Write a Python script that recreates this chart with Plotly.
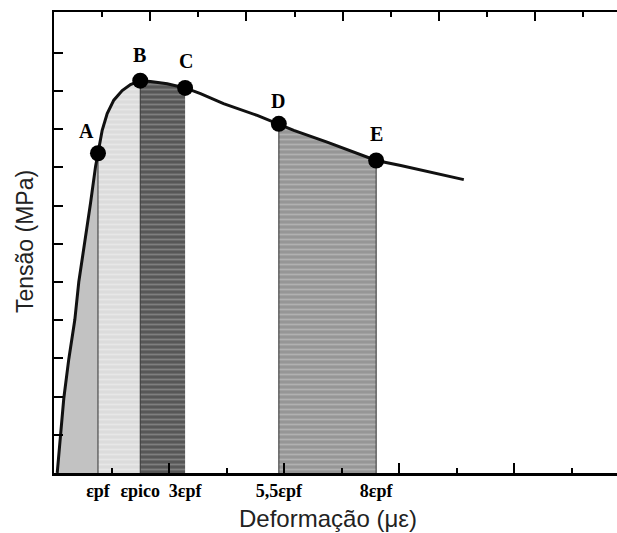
import plotly.graph_objects as go

# ---- data ----
strain = [0.056, 0.113, 0.170, 0.257, 0.362, 0.431, 0.536, 0.635, 0.722, 0.765,
          0.838, 0.925, 1.04, 1.186, 1.33, 1.50, 1.678, 1.969, 2.28, 2.548,
          2.948, 3.534, 3.91, 4.17, 4.75, 5.214, 5.603, 6.03, 6.548, 7.127]
stress = [0, 0.98, 1.95, 2.98, 4.01, 5.0, 6.03, 7.06, 8.02, 8.37,
          8.97, 9.41, 9.76, 10.01, 10.17, 10.27, 10.25, 10.19, 10.08, 9.93,
          9.67, 9.36, 9.14, 8.97, 8.66, 8.40, 8.18, 8.05, 7.87, 7.68]

point_names = ["A", "B", "C", "D", "E"]
point_index = [9, 15, 18, 22, 26]
tick_labels = ["εpf", "εpico", "3εpf", "5,5εpf", "8εpf"]

bottom_major = [2, 4, 6, 8]
bottom_minor = [1, 3, 5, 7, 9]
top_major = [2, 4, 6, 8, 10]
top_minor = [1, 3, 5, 7, 9, 11]
left_ticks = [1, 2, 3, 4, 5, 6, 7, 8, 9, 10, 11]

px_ = [strain[i] for i in point_index]
py_ = [stress[i] for i in point_index]

# regions: (start index, end index, bg, fg, pattern)
regions = [
    (0, 9, "#c2c2c2", "#c2c2c2", ""),
    (9, 15, "#dcdcdc", "#f2f2f2", "-"),
    (15, 18, "#575757", "#a8a8a8", "-"),
    (22, 26, "#969696", "#cccccc", "-"),
]

fig = go.Figure()

for s, e, bg, fg, shp in regions:
    kw = dict(x=strain[s:e + 1], y=stress[s:e + 1], mode="lines",
              line=dict(width=0), fill="tozeroy", fillcolor=bg,
              hoverinfo="skip", showlegend=False)
    if shp:
        kw["fillpattern"] = dict(shape=shp, bgcolor=bg, fgcolor=fg,
                                 size=5, solidity=0.35)
    fig.add_trace(go.Scatter(**kw))

# vertical boundary lines
for k in [0, 1, 3, 4]:
    fig.add_trace(go.Scatter(x=[px_[k], px_[k]], y=[0, py_[k]], mode="lines",
                             line=dict(color="#333333", width=1),
                             hoverinfo="skip", showlegend=False))

# curve
fig.add_trace(go.Scatter(x=strain, y=stress, mode="lines",
                         line=dict(color="#111111", width=3),
                         showlegend=False))

# points
fig.add_trace(go.Scatter(x=px_, y=py_, mode="markers",
                         marker=dict(color="black", size=16),
                         showlegend=False))

# point labels
shifts = [(-11, 22), (-1, 26), (1, 27), (-1, 23), (0, 27)]
for name, x, y, (dx, dy) in zip(point_names, px_, py_, shifts):
    fig.add_annotation(x=x, y=y, text=name, showarrow=False,
                       xshift=dx, yshift=dy,
                       font=dict(family="Liberation Serif", size=20,
                                 color="black", weight="bold"))

# invisible traces for the helper axes
fig.add_trace(go.Scatter(x=[0], y=[0], xaxis="x2", mode="markers",
                         marker=dict(opacity=0), hoverinfo="skip",
                         showlegend=False))
fig.add_trace(go.Scatter(x=[0], y=[0], xaxis="x3", mode="markers",
                         marker=dict(opacity=0), hoverinfo="skip",
                         showlegend=False))

W, H = 617, 533
L, R, T, B = 54, 0, 12, 60
pw, ph = W - L - R, H - T - B


def page_x(x):
    return (x - L) / pw


def page_y(y):
    return (H - B - y) / ph


fig.update_layout(
    width=W, height=H,
    margin=dict(l=L, r=R, t=T, b=B),
    paper_bgcolor="white", plot_bgcolor="white",
    xaxis=dict(range=[0, pw / 57.5], showline=True, linewidth=3,
               linecolor="black", ticks="inside", tickmode="array",
               tickvals=bottom_major, ticklen=10, tickwidth=2,
               tickcolor="black", showticklabels=False, showgrid=False,
               zeroline=False,
               minor=dict(tickmode="array", tickvals=bottom_minor,
                          ticks="inside", ticklen=5, tickwidth=2,
                          tickcolor="black", showgrid=False)),
    xaxis2=dict(range=[0, pw / 48.1], overlaying="x", side="top",
                anchor="y", showline=True, linewidth=2, linecolor="black",
                ticks="inside", tickmode="array", tickvals=top_major,
                ticklen=9, tickwidth=2, tickcolor="black",
                showticklabels=False, showgrid=False, zeroline=False,
                minor=dict(tickmode="array", tickvals=top_minor,
                           ticks="inside", ticklen=5, tickwidth=2,
                           tickcolor="black", showgrid=False)),
    xaxis3=dict(matches="x", overlaying="x", side="bottom", anchor="y",
                showline=False, ticks="", tickmode="array",
                tickvals=px_, ticktext=tick_labels,
                tickfont=dict(family="Liberation Serif", size=18,
                              color="black", weight="bold"),
                ticklabelstandoff=5,
                showgrid=False, zeroline=False),
    yaxis=dict(range=[0, ph / 38.2], showline=True, linewidth=2,
               linecolor="black", ticks="inside", tickmode="array",
               tickvals=left_ticks, ticklen=9, tickwidth=2,
               tickcolor="black", showticklabels=False, showgrid=False,
               zeroline=False),
)

fig.add_annotation(xref="paper", yref="paper", x=page_x(25),
                   y=page_y(242), xanchor="center", yanchor="middle",
                   text="Tensão (MPa)", textangle=-90, showarrow=False,
                   font=dict(family="Liberation Sans", size=23,
                             color="#222222"))
fig.add_annotation(xref="paper", yref="paper", x=page_x(328),
                   y=page_y(518), xanchor="center", yanchor="middle",
                   text="Deformação (με)", showarrow=False,
                   font=dict(family="Liberation Sans", size=24,
                             color="#222222"))

fig.write_html("out.html",
               config={"displayModeBar": False},
               post_script="document.body.style.margin='0';"
                           "document.body.style.overflow='hidden';")
